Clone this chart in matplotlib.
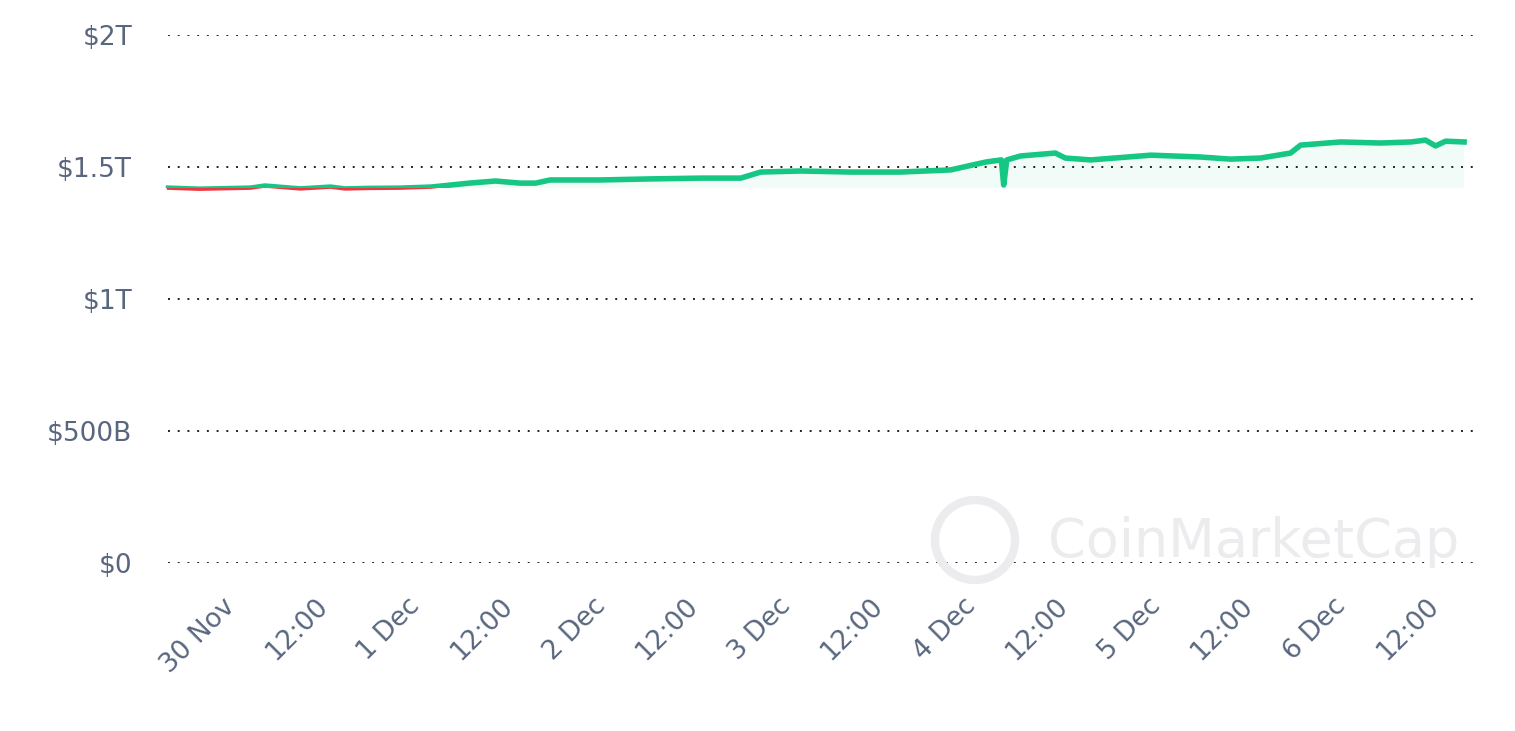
import matplotlib
matplotlib.use("Agg")
import matplotlib.pyplot as plt
import numpy as np
import pandas as pd
import matplotlib.dates as mdates
import matplotlib.transforms as mtrans
from matplotlib.patches import Rectangle, Ellipse

hours = [-8.0, -4, 2.6, 4.5, 9.1, 13, 14.9, 18, 22, 26, 31, 34.4, 37.6, 39.6, 41.5, 48, 54.5, 61,
         66.2, 68.8, 74, 80.4, 86.9, 93.4, 98, 100, 100.3, 100.7, 102.5, 107, 108.3, 111.6, 119.4,
         125.8, 129.7, 133.6, 137.5, 138.8, 144, 149.2, 153.1, 155, 156.3, 157.6, 160]
values_t = [1.420, 1.416, 1.420, 1.428, 1.417, 1.424, 1.417, 1.419, 1.420, 1.424, 1.439, 1.447,
            1.439, 1.439, 1.451, 1.451, 1.455, 1.458, 1.458, 1.481, 1.485, 1.481, 1.481, 1.489,
            1.519, 1.527, 1.432, 1.527, 1.542, 1.553, 1.534, 1.527, 1.545, 1.538, 1.530, 1.534,
            1.553, 1.583, 1.595, 1.591, 1.595, 1.602, 1.580, 1.598, 1.595]
ytick_vals = [0, 0.5, 1.0, 1.5, 2.0]
ytick_labels = ["$0", "$500B", "$1T", "$1.5T", "$2T"]
xtick_labels = ["30 Nov", "12:00", "1 Dec", "12:00", "2 Dec", "12:00", "3 Dec", "12:00",
                "4 Dec", "12:00", "5 Dec", "12:00", "6 Dec", "12:00"]

t0 = pd.Timestamp("2023-11-30")
times = [t0 + pd.Timedelta(hours=h) for h in hours]
x = mdates.date2num(times)
v = np.array(values_t)
base = v[0]

W, H = 15.15, 7.31
fig = plt.figure(figsize=(W, H), dpi=100)
ax = fig.add_axes([0.111, 0.23, 0.861, 0.722])
ax.set_xlim(mdates.date2num(t0 - pd.Timedelta(hours=8.04)), mdates.date2num(t0 + pd.Timedelta(hours=161.1)))
ax.set_ylim(0, 2.0)

green = "#16c784"; red = "#ea3943"
ax.fill_between(x, v, base, where=v >= base, color=green, alpha=0.06, lw=0, interpolate=True)
lg, = ax.plot(x, v, color=green, lw=4, solid_joinstyle="round", zorder=3)
lr, = ax.plot(x, v, color=red, lw=2.5, zorder=3)
lg.set_clip_path(Rectangle((x[0] - 1, base), 20, 5, transform=ax.transData))
lr.set_clip_path(Rectangle((x[0] - 1, base - 5), 20, 5, transform=ax.transData))

ax.set_yticks(ytick_vals)
ax.set_yticklabels(ytick_labels)
ticks = [mdates.date2num(t0 + pd.Timedelta(hours=12 * i)) for i in range(len(xtick_labels))]
ax.set_xticks(ticks)
ax.set_xticklabels(xtick_labels, rotation=45, ha="right", rotation_mode="anchor")
ax.tick_params(length=0, labelsize=19, colors="#58667e")
ax.tick_params(axis="x", pad=22)
ax.tick_params(axis="y", pad=26)
off = mtrans.ScaledTranslation(-8 / 100, 0, fig.dpi_scale_trans)
for lab in ax.get_xticklabels():
    lab.set_transform(lab.get_transform() + off)
ax.grid(axis="y", linestyle=(0, (1, 4)), color="#222222", lw=1.4)
for s in ax.spines.values():
    s.set_visible(False)

fig.text(0.692, 0.258, "CoinMarketCap", fontsize=39, color="#ececee", ha="left", va="center", zorder=0)
r = 40
fig.patches.append(Ellipse((975 / 1515, 1 - 540 / 731), 2 * r / 1515, 2 * r / 731,
                           transform=fig.transFigure, fill=False, ec="#ececee", lw=6, zorder=0))
fig.savefig("out.png", dpi=100)
